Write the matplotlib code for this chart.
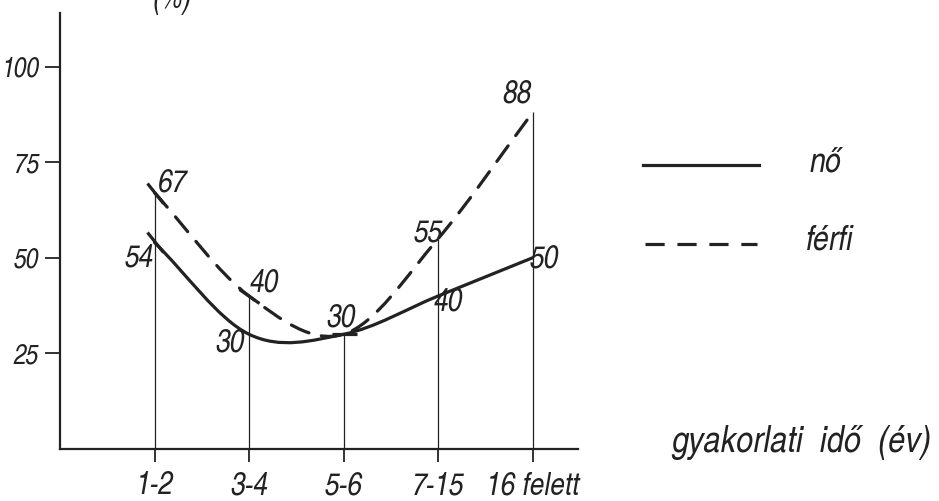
import matplotlib
matplotlib.use("Agg")
import matplotlib.pyplot as plt
from matplotlib.path import Path
from matplotlib.patches import PathPatch
from matplotlib.markers import MarkerStyle
from matplotlib.transforms import Affine2D
from matplotlib.lines import Line2D
import numpy as np

categories = ["1-2", "3-4", "5-6", "7-15", "16 felett"]
no_values = [54, 30, 30, 40, 50]       # nő
ferfi_values = [67, 40, 30, 55, 88]    # férfi
yticks = [25, 50, 75, 100]

ink = "#222222"
fams = ["TeX Gyre Heros Cn", "Liberation Sans Narrow", "DejaVu Sans"]
hand = dict(family=fams, style="italic", color=ink)

plt.rcParams["font.family"] = fams

fig = plt.figure(figsize=(9.39, 5.01), dpi=100)
ax = fig.add_axes([60 / 939, 52 / 501, 518 / 939, 436 / 501])


def smooth_path(xs, ys):
    # bezier segments through the points, catmull-rom style tangents
    xs = np.asarray(xs, float)
    ys = np.asarray(ys, float)
    n = len(xs)
    m = np.zeros(n)
    m[0] = ys[1] - ys[0]
    m[-1] = ys[-1] - ys[-2]
    for i in range(1, n - 1):
        m[i] = (ys[i + 1] - ys[i - 1]) / 2
    verts = [(xs[0], ys[0])]
    codes = [Path.MOVETO]
    for i in range(n - 1):
        verts += [(xs[i] + 1 / 3, ys[i] + m[i] / 3),
                  (xs[i + 1] - 1 / 3, ys[i + 1] - m[i + 1] / 3),
                  (xs[i + 1], ys[i + 1])]
        codes += [Path.CURVE4] * 3
    return Path(verts, codes)


x = np.arange(len(categories))

# drop lines
ax.vlines(x, 0, np.maximum(no_values, ferfi_values), color=ink, lw=0.9)

ax.add_patch(PathPatch(smooth_path(x, no_values), fill=False, ec=ink, lw=2.3,
                       capstyle="round"))
ax.add_patch(PathPatch(smooth_path(x, ferfi_values), fill=False, ec=ink, lw=2.3,
                       linestyle=(0, (6, 4)), capstyle="round"))

# small hand ticks across the curves
for xi, yi, ang in [(0, ferfi_values[0], -52), (0, no_values[0], -50),
                    (1, ferfi_values[1], -35), (2, no_values[2], 0)]:
    ms = MarkerStyle("_", transform=Affine2D().rotate_deg(ang))
    ax.plot([xi], [yi], marker=ms, ms=18, mew=2.3, color=ink)

# value labels
labels = [
    (0, ferfi_values[0], (13, 6.5)),
    (0, no_values[0], (-11, -11.5)),
    (1, ferfi_values[1], (11, 9)),
    (1, no_values[1], (-14, -6.5)),
    (2, no_values[2], (-2, 11.5)),
    (3, ferfi_values[3], (-7.5, 3.5)),
    (3, no_values[3], (7.5, -5)),
    (4, ferfi_values[4], (-11, 13)),
    (4, no_values[4], (8.6, -1)),
]
for xi, yi, off in labels:
    ax.annotate(str(yi), (xi, yi), xytext=off, textcoords="offset points",
                ha="center", va="center", fontsize=23, **hand)

ax.set_xlim(-1.0, 4.48)
ax.set_ylim(0, 114)
ax.set_xticks(x)
ax.set_xticklabels(categories, **hand, fontsize=23)
ax.set_yticks(yticks)
ax.set_yticklabels([str(v) for v in yticks], **hand, fontsize=20)
ax.tick_params(axis="y", length=11, width=1.3, color=ink, pad=4)
ax.tick_params(axis="x", length=9, width=1.3, color=ink, pad=7)
for s in ["top", "right"]:
    ax.spines[s].set_visible(False)
for s in ["left", "bottom"]:
    ax.spines[s].set_linewidth(1.6)
    ax.spines[s].set_color(ink)

# legend drawn by hand
fig.add_artist(Line2D([643 / 939, 759 / 939], [1 - 165 / 501, 1 - 165 / 501],
                      color=ink, lw=2.3))
fig.add_artist(Line2D([645 / 939, 757 / 939], [1 - 244 / 501, 1 - 244 / 501],
                      color=ink, lw=2.3, linestyle=(0, (6, 4))))
fig.text(810 / 939, 1 - 163 / 501, "nő", ha="left", va="center", fontsize=25, **hand)
fig.text(806 / 939, 1 - 240 / 501, "férfi", ha="left", va="center", fontsize=25, **hand)

fig.text(801 / 939, 1 - 443 / 501, "gyakorlati  idő  (év)", ha="center", va="center",
         fontsize=27, **hand)
fig.text(172 / 939, 1.0, "(%)", ha="center", va="center", fontsize=22, **hand)

fig.savefig("out.png", dpi=100, facecolor="white")
